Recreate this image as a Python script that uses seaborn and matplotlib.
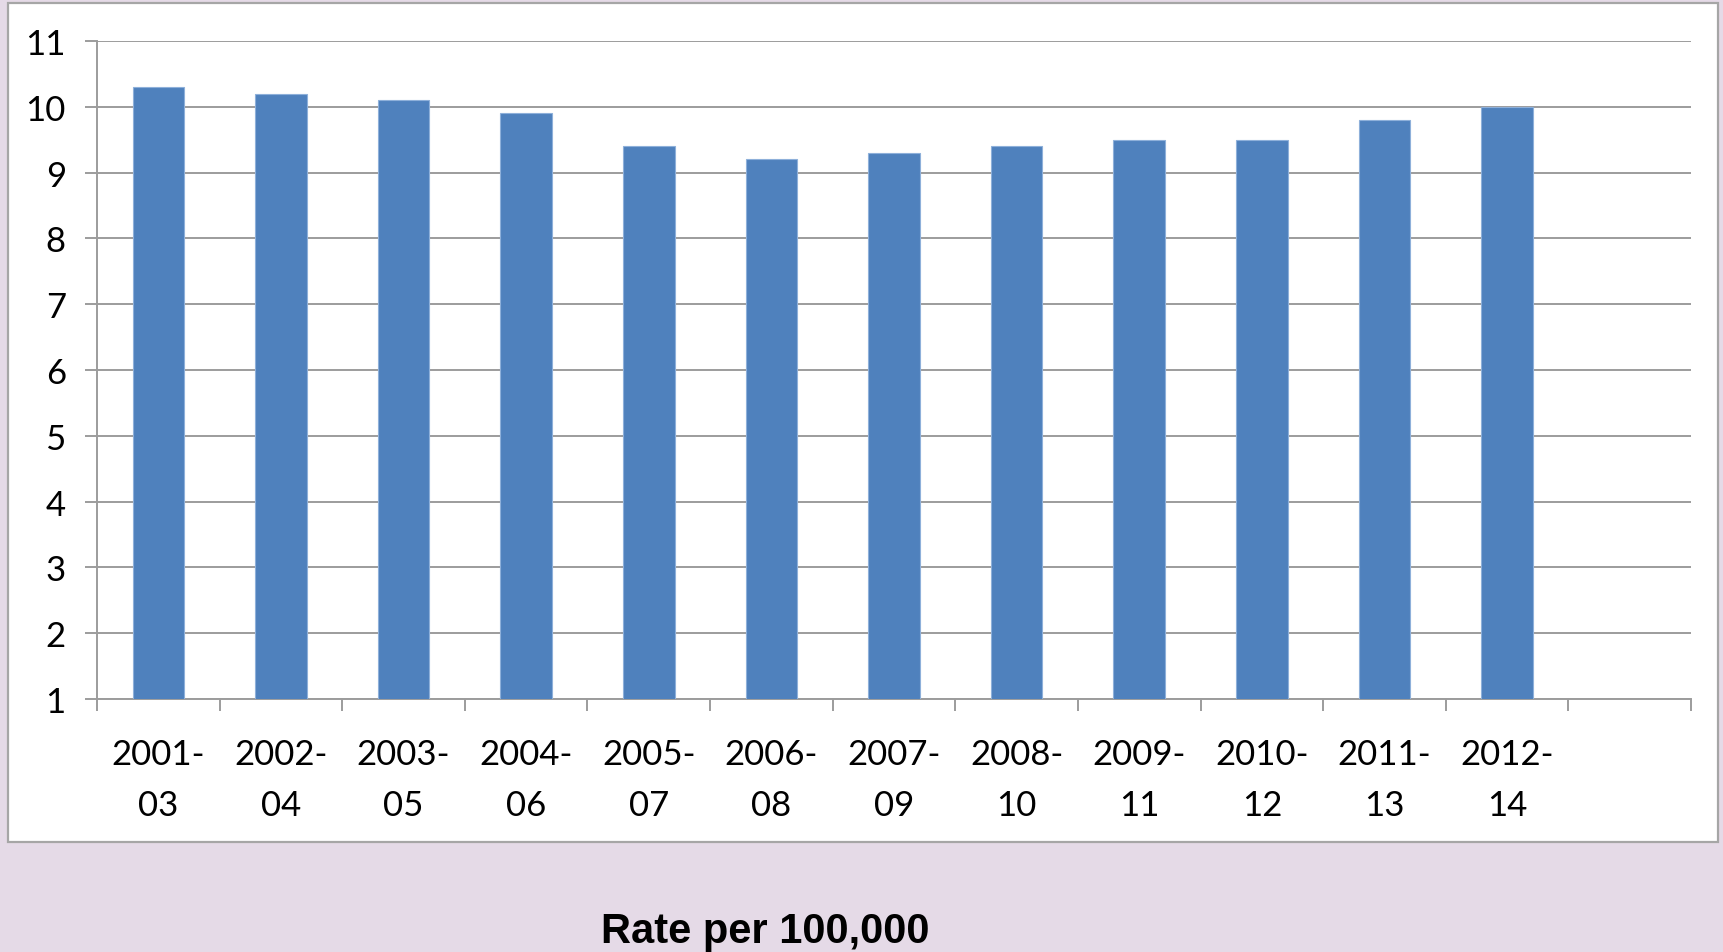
import matplotlib
matplotlib.use("Agg")
import matplotlib.pyplot as plt
import seaborn as sns
import pandas as pd
from matplotlib.patches import Rectangle

# data
periods = ["2001-\n03", "2002-\n04", "2003-\n05", "2004-\n06", "2005-\n07", "2006-\n08",
           "2007-\n09", "2008-\n10", "2009-\n11", "2010-\n12", "2011-\n13", "2012-\n14"]
rates = [10.3, 10.2, 10.1, 9.9, 9.4, 9.2, 9.3, 9.4, 9.5, 9.5, 9.8, 10.0]
y_ticks = list(range(1, 12))

df = pd.DataFrame({"period": periods, "rate": rates})

sns.set_style("white")
plt.rcParams["font.family"] = ["Lato", "DejaVu Sans"]
plt.rcParams["text.color"] = "black"
plt.rcParams["xtick.color"] = "black"
plt.rcParams["ytick.color"] = "black"

grey = "#9C9C9C"
fig = plt.figure(figsize=(17.23, 9.53), dpi=100)
fig.patch.set_facecolor("#E5DAE7")

# white chart box with grey border, behind the axes
fig.patches.append(Rectangle((0.0046, 0.1154), 0.9925, 0.8804, transform=fig.transFigure,
                             facecolor="white", edgecolor="#A6A6A6", linewidth=1.6, zorder=-1))

ax = fig.add_axes([0.0563, 0.2655, 0.9251, 0.6904])
ax.set_facecolor("none")
sns.barplot(data=df, x="period", y="rate", color="#4F81BD", width=0.42,
            edgecolor="#8EB0DA", linewidth=0.8, saturation=1, ax=ax, zorder=3)

ax.set_xlim(-0.5, 12.5)
ax.set_ylim(1, 11)
ax.set_yticks(y_ticks)
ax.yaxis.grid(True, color=grey, linewidth=1.4, zorder=0)
ax.set_axisbelow(True)

for s in ["top", "right"]:
    ax.spines[s].set_visible(False)
for s in ["left", "bottom"]:
    ax.spines[s].set_color(grey)
    ax.spines[s].set_linewidth(1.4)

ax.set_xticks(range(len(periods)))
ax.set_xticklabels(periods, linespacing=1.75)
ax.set_xticks([i - 0.5 for i in range(14)], minor=True)
ax.tick_params(axis="x", which="major", length=0, pad=28, labelsize=25)
ax.tick_params(axis="x", which="minor", length=8.5, width=1.4, color=grey,
               direction="out", bottom=True)
ax.tick_params(axis="y", which="major", length=8.5, width=1.4, color=grey,
               direction="out", pad=14, labelsize=25, left=True)
ax.set_xlabel("")
ax.set_ylabel("")

fig.text(0.444, 0.011, "Rate per 100,000", ha="center", va="baseline",
         fontsize=30, fontweight="bold", family="Liberation Sans")

fig.savefig("out.png", dpi=100, facecolor=fig.get_facecolor())
